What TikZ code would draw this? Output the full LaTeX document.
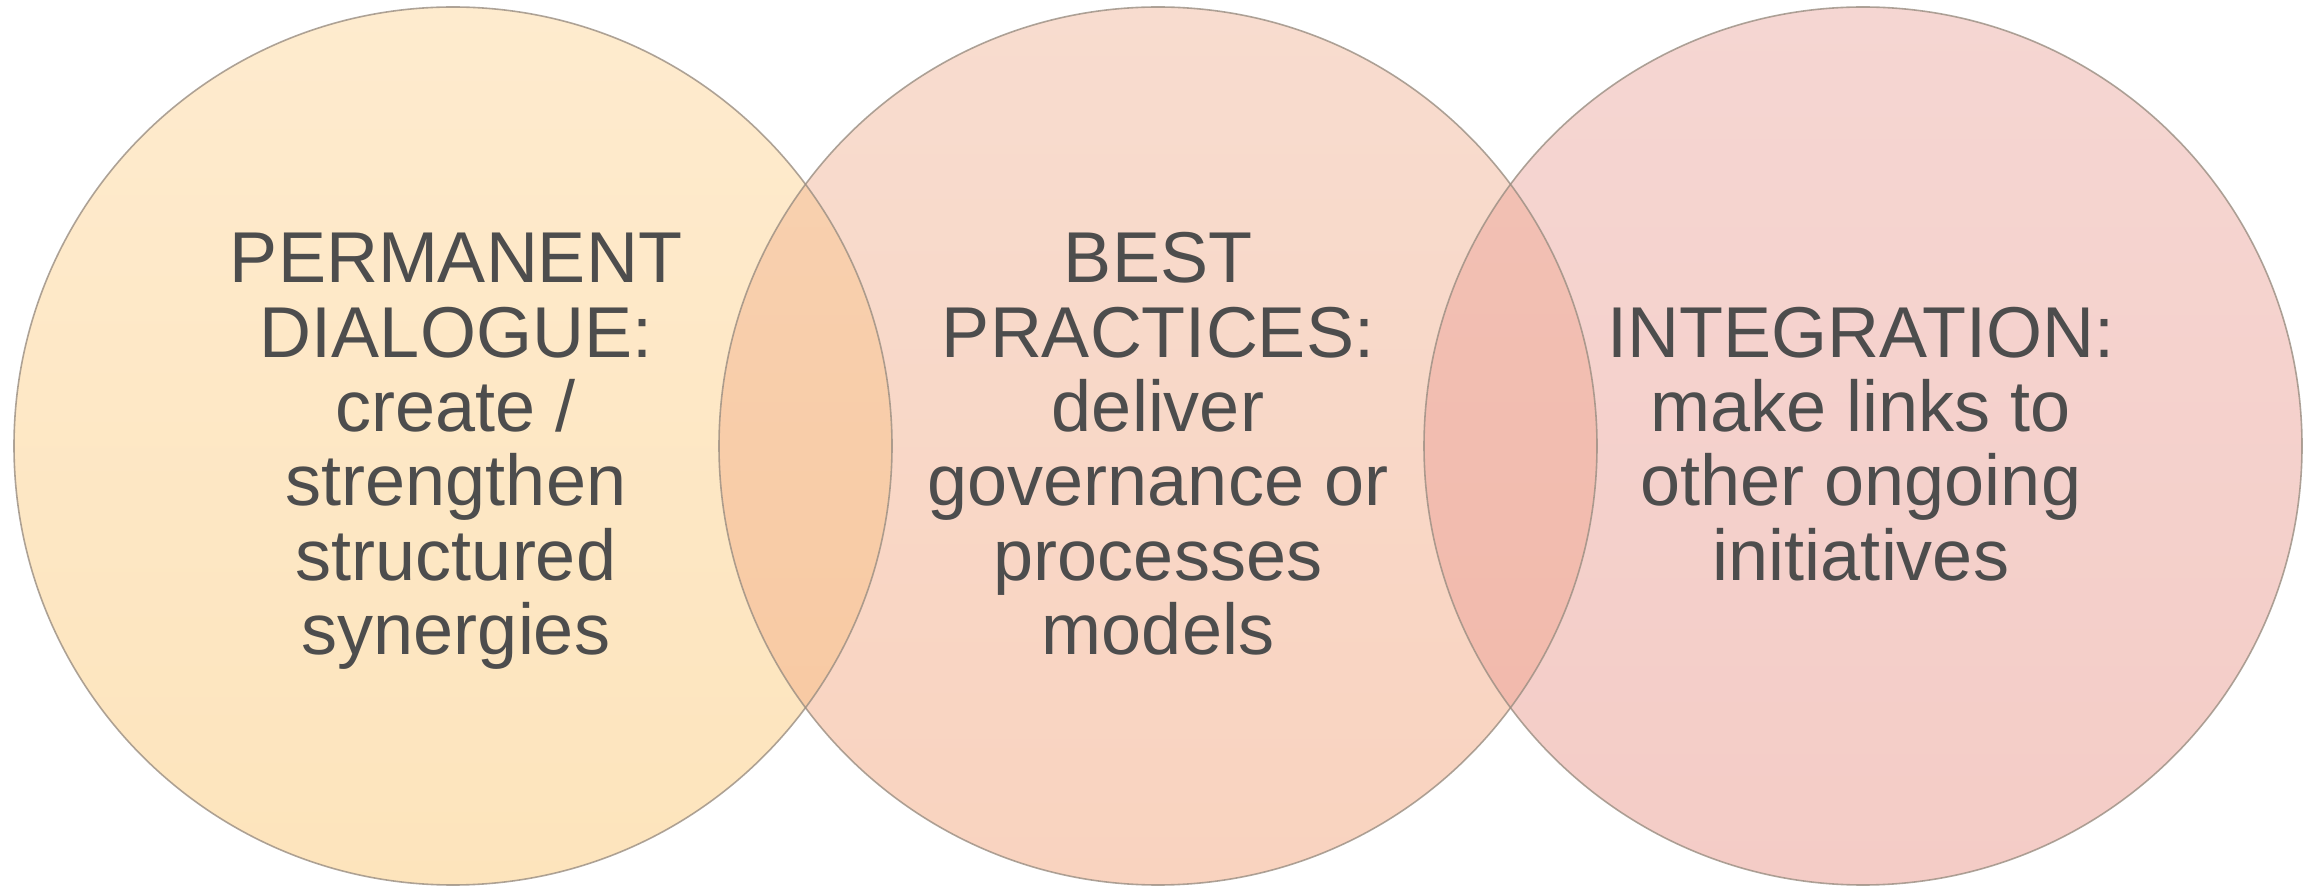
\documentclass[tikz,border=0pt]{standalone}
\usepackage{fontspec}
\setmainfont{Liberation Sans}
\definecolor{txt}{HTML}{4D4D4D}
\definecolor{edge}{HTML}{9A8E82}
\definecolor{aTop}{HTML}{FEEBCE}
\definecolor{aBot}{HTML}{FDE4BC}
\definecolor{bTop}{HTML}{F8DCCF}
\definecolor{bBot}{HTML}{F9D3BF}
\definecolor{cTop}{HTML}{F5D6D2}
\definecolor{cBot}{HTML}{F4CCC6}
\definecolor{abTop}{HTML}{F8D2B2}
\definecolor{abBot}{HTML}{F8C8A0}
\definecolor{bcTop}{HTML}{F2C2B6}
\definecolor{bcBot}{HTML}{F2B8AA}
\tikzset{
  label text/.style={text=txt, align=center, font=\fontsize{72}{74.4}\selectfont, inner sep=0pt},
  ring/.style={draw=edge, line width=1.6pt}
}
\begin{document}
\begin{tikzpicture}[x=1pt,y=1pt]
\useasboundingbox (0,0) rectangle (2313,887);
\coordinate (ca) at (453,441);
\coordinate (cb) at (1158,441);
\coordinate (cc) at (1863,441);
\def\R{439}
% fills
\shade[top color=aTop, bottom color=aBot] (ca) circle (\R);
\shade[top color=bTop, bottom color=bBot] (cb) circle (\R);
\shade[top color=cTop, bottom color=cBot] (cc) circle (\R);
% overlaps
\begin{scope}
  \clip (ca) circle (\R);
  \shade[top color=abTop, bottom color=abBot] (cb) circle (\R);
\end{scope}
\begin{scope}
  \clip (cb) circle (\R);
  \shade[top color=bcTop, bottom color=bcBot] (cc) circle (\R);
\end{scope}
% outlines
\draw[ring, draw opacity=0.8] (ca) circle (\R);
\draw[ring, draw opacity=0.8] (cb) circle (\R);
\draw[ring, draw opacity=0.8] (cc) circle (\R);
% texts
\node[label text] (ta) at (456,435.5) {PERMANENT\\DIALOGUE:\\create /\\strengthen\\structured\\synergies};
\node[label text] (tb) at (1158,443) {BEST\\PRACTICES:\\deliver\\governance or\\processes\\models};
\node[label text] (tc) at (1861,443) {INTEGRATION:\\make links to\\other ongoing\\initiatives};
\end{tikzpicture}
\end{document}
